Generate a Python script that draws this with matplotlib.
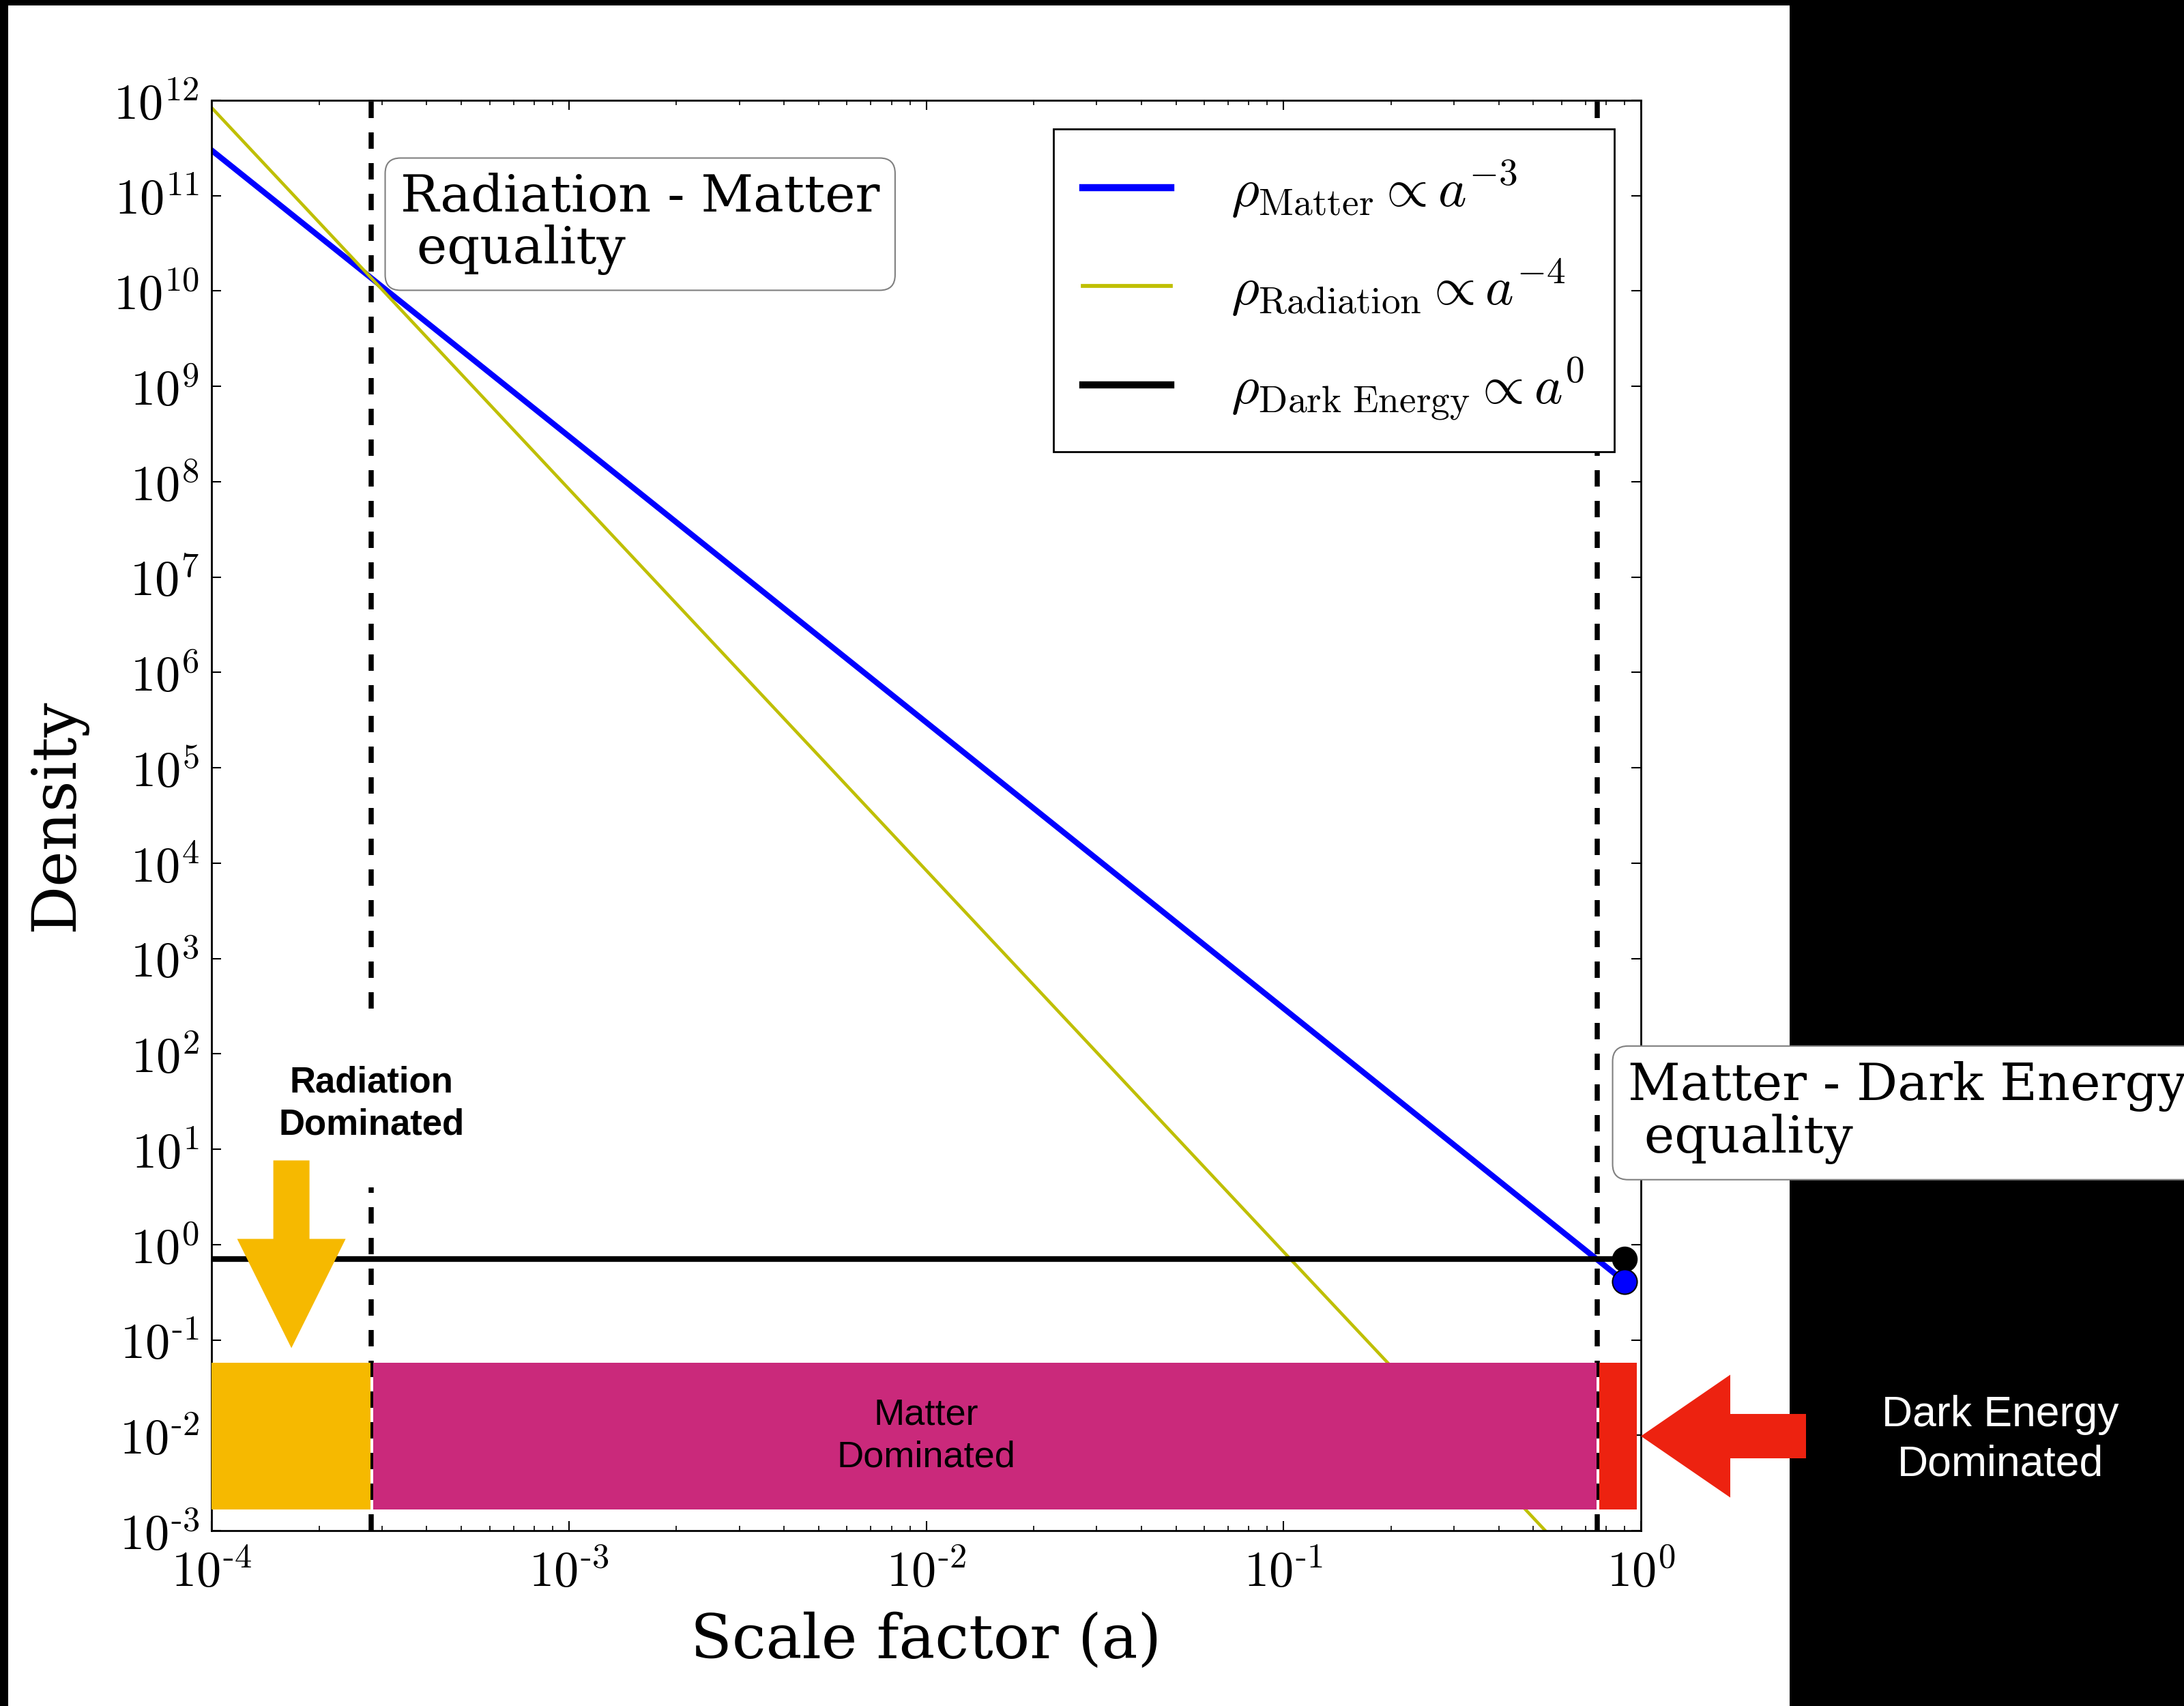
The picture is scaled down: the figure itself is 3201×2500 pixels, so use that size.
import numpy as np
import matplotlib
matplotlib.use('Agg')
import matplotlib.pyplot as plt
from matplotlib.patches import Rectangle, Polygon
from matplotlib.transforms import IdentityTransform
from matplotlib.ticker import NullLocator, NullFormatter
from matplotlib.mathtext import MathTextParser

# densities at a few scale factors
a_vals = [1e-4, 1e-3, 1e-2, 1e-1, 0.9]
rho_matter = [3.0e11, 3.0e8, 3.0e5, 3.0e2, 0.41]
rho_radiation = [8.4e11, 8.4e7, 8.4e3, 0.84, 1.3e-4]
rho_dark = [0.7, 0.7, 0.7, 0.7, 0.7]

a_today = 0.9
a_rm = 2.8e-4    # radiation - matter equality
a_mde = 0.755    # matter - dark energy equality

era_labels = ['Radiation\nDominated', 'Matter\nDominated', 'Dark Energy\nDominated']
era_edges = [1e-4, a_rm, a_mde, 0.975]
era_colors = ['#F6B900', '#CA297B', '#ED2210']
band_lo, band_hi = 10**-2.775, 10**-1.243

legend_labels = [r'$\rho_{\rm Matter} \propto a^{-3}$',
                 r'$\rho_{\rm Radiation} \propto a^{-4}$',
                 r'$\rho_{\rm Dark\ Energy} \propto a^{0}$']
xtick_exp = [-4, -3, -2, -1, 0]
ytick_exp = [-3, -2, -1, 0, 1, 2, 3, 4, 5, 6, 7, 8, 9, 10, 11, 12]

plt.rcParams['mathtext.fontset'] = 'cm'
plt.rcParams['font.family'] = 'DejaVu Serif'


# short hyphen in the exponents, like the old-style labels
def tick_label(e):
    if e < 0:
        s = r'$10^{\text{-}%d}$' % (-e)
        try:
            MathTextParser('agg').parse(s, 72)
            return s
        except Exception:
            pass
    return r'$10^{%d}$' % e


W, H = 3201, 2500
fig = plt.figure(figsize=(W / 100, H / 100), dpi=100, facecolor='black')
fig.add_artist(Rectangle((12 / W, 0), 2611 / W, 2492 / H, transform=fig.transFigure,
                         facecolor='white', edgecolor='none', zorder=-5))
ax = fig.add_axes([310 / W, 1 - 2243 / H, 2095 / W, 2096 / H])

l1, = ax.loglog(a_vals, rho_matter, color='blue', lw=6)
l2, = ax.loglog(a_vals, rho_radiation, color='#bfbf00', lw=3.3)
l3, = ax.loglog(a_vals, rho_dark, color='black', lw=6)
ax.plot([a_today], [rho_dark[-1]], 'o', color='black', ms=26, zorder=4)
ax.plot([a_today], [rho_matter[-1]], 'o', color='blue', mec='black', mew=1.5, ms=26, zorder=4)

for a in (a_rm, a_mde):
    ax.axvline(a, color='black', lw=5.4, ls=(0, (3.2, 2.8)), zorder=1.5)

ax.set_xlim(1e-4, 1)
ax.set_ylim(1e-3, 1e12)

# era bands, with a thin gap where the dashed lines show through
px = 10 ** (1 / 523.75)
for i, (lo, hi, col) in enumerate(zip(era_edges[:-1], era_edges[1:], era_colors)):
    if i > 0:
        lo *= px ** 3
    if i < 2:
        hi /= px ** 1.5
    ax.fill_between([lo, hi], band_lo, band_hi, color=col, lw=0, zorder=3)

ax.set_xticks([10.0 ** e for e in xtick_exp])
ax.set_xticklabels([tick_label(e) for e in xtick_exp])
ax.set_yticks([10.0 ** e for e in ytick_exp])
ax.set_yticklabels([tick_label(e) for e in ytick_exp])
ax.yaxis.set_minor_locator(NullLocator())
ax.xaxis.set_minor_formatter(NullFormatter())
ax.tick_params(which='both', direction='in', top=True, right=True)
ax.tick_params(which='major', length=10, width=1.5, labelsize=52)
ax.tick_params(which='minor', length=5, width=1.2)
ax.tick_params(axis='x', pad=19)
ax.tick_params(axis='y', pad=13)
for s in ax.spines.values():
    s.set_linewidth(2)

ax.set_xlabel('Scale factor (a)', fontsize=64)
ax.xaxis.set_label_coords(0.5, -0.0568)
ax.set_ylabel('Density', fontsize=64)
ax.yaxis.set_label_coords(-0.0874, 0.5)

leg = ax.legend([l1, l2, l3], legend_labels, loc='upper right',
                bbox_to_anchor=(2366 / W, 1 - 189 / H), bbox_transform=fig.transFigure,
                fontsize=57, fancybox=False, edgecolor='black', framealpha=1,
                borderaxespad=0, borderpad=0.55, handlelength=1.62, handletextpad=1.12,
                labelspacing=0.7)
leg.get_frame().set_linewidth(2)
for h in leg.get_lines():
    h.set_linewidth(h.get_linewidth() * 1.25)

box = dict(boxstyle='round,pad=0.3', facecolor='white', edgecolor='0.5', lw=1.5)
ax.text(3.38e-4, 10 ** 11.241, 'Radiation - Matter\n equality', fontsize=54,
        ha='left', va='top', linespacing=1.05, bbox=box, zorder=5)
ax.text(0.92, 10 ** 1.921, 'Matter - Dark Energy\n equality', fontsize=54,
        ha='left', va='top', linespacing=1.05, bbox=box, zorder=5, clip_on=False)

# era labels
ax.text(a_rm, 10 ** 1.477, era_labels[0], ha='center', va='center', fontsize=38,
        fontweight='bold', family='Liberation Sans', linespacing=1.3,
        bbox=dict(facecolor='white', edgecolor='none', pad=48), zorder=4)
ax.text(0.01, np.sqrt(band_lo * band_hi), era_labels[1], ha='center', va='center',
        fontsize=39, family='Liberation Sans', linespacing=1.3, zorder=4)
fig.text(2932 / W, 1 - 2110 / H, era_labels[2], ha='center', va='center', color='white',
         fontsize=45, family='Liberation Sans', linespacing=1.3)


def block_arrow(tip, d, total, head_len, head_half, shaft_half, col):
    tip = np.asarray(tip, float)
    d = np.asarray(d, float)
    n = np.array([-d[1], d[0]])
    b = -d
    pts = [tip,
           tip + b * head_len + n * head_half,
           tip + b * head_len + n * shaft_half,
           tip + b * total + n * shaft_half,
           tip + b * total - n * shaft_half,
           tip + b * head_len - n * shaft_half,
           tip + b * head_len - n * head_half]
    return Polygon(pts, closed=True, transform=IdentityTransform(),
                   facecolor=col, edgecolor='none', zorder=6)


tx, ty = ax.transData.transform((np.sqrt(era_edges[0] * a_rm), band_hi))
fig.add_artist(block_arrow((tx, ty + 22), (0, -1), 275, 160, 79.5, 26.5, era_colors[0]))
tx, ty = ax.transData.transform((1.0, np.sqrt(band_lo * band_hi)))
fig.add_artist(block_arrow((tx, ty), (-1, 0), 242, 131, 90, 32.5, era_colors[2]))

fig.savefig('out.png', dpi=100, facecolor='black')
